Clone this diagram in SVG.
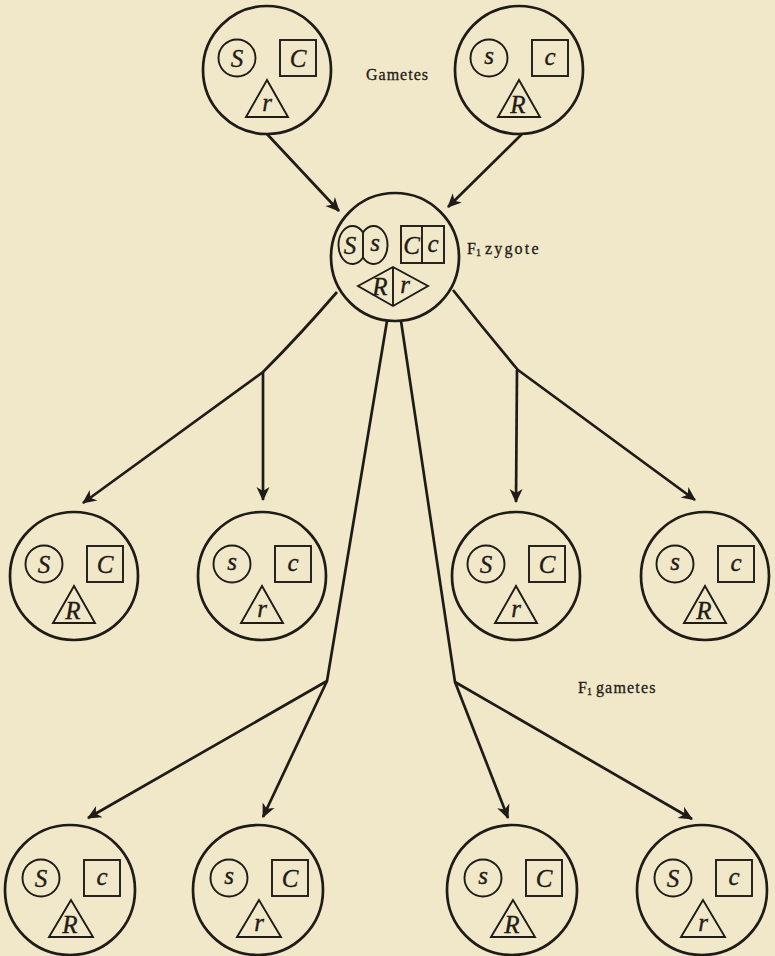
<svg xmlns="http://www.w3.org/2000/svg" width="775" height="956" viewBox="0 0 775 956">
  <style>
    .cell { fill: none; stroke: #1f1b17; stroke-width: 2.7; }
    .part { fill: none; stroke: #1f1b17; stroke-width: 1.9; stroke-linejoin: miter; }
    .lt { font-family: "Liberation Serif", "DejaVu Serif", serif; font-style: italic; font-size: 25px; text-anchor: middle; fill: #1f1b17; stroke: #1f1b17; stroke-width: 0.35; }
    .lbl { font-family: "Liberation Serif", "DejaVu Serif", serif; font-size: 16px; fill: #1f1b17; stroke: #1f1b17; stroke-width: 0.3; }
    .link { fill: none; stroke: #1f1b17; stroke-width: 2.7; stroke-linejoin: round; stroke-linecap: butt; }
  </style>
  <defs>
    <marker id="arrow" viewBox="-14 -8 16 16" markerWidth="16" markerHeight="16" refX="0" refY="0" orient="auto" markerUnits="userSpaceOnUse">
      <path d="M-13,-6.5 L1,0 L-13,6.5 L-9,0 Z" fill="#1f1b17"/>
    </marker>
  </defs>

  <rect width="775" height="956" fill="#f0e8c8"/>

  <!-- connectors -->
  <g id="connectors">
    <path class="link" d="M267,134 L339,211" marker-end="url(#arrow)"/>
    <path class="link" d="M522,134 L448,207" marker-end="url(#arrow)"/>

    <path class="link" d="M337,292 Q300,335 263,372 L83,503" marker-end="url(#arrow)"/>
    <path class="link" d="M263,372 L263,500" marker-end="url(#arrow)"/>
    <path class="link" d="M453,290 Q486,332 518,370 L695,500" marker-end="url(#arrow)"/>
    <path class="link" d="M517,370 L516,502" marker-end="url(#arrow)"/>

    <path class="link" d="M387,321 L327,681 L88,818" marker-end="url(#arrow)"/>
    <path class="link" d="M327,681 L263,817" marker-end="url(#arrow)"/>
    <path class="link" d="M401,321 L455,682 L692,819" marker-end="url(#arrow)"/>
    <path class="link" d="M455,682 L508,818" marker-end="url(#arrow)"/>
  </g>

  <!-- labels -->
  <text class="lbl" x="366" y="80" textLength="62" lengthAdjust="spacing">Gametes</text>
  <text class="lbl" x="467" y="254">F<tspan font-size="10" dy="2">1</tspan><tspan dy="-2" dx="4" letter-spacing="2.2">zygote</tspan></text>
  <text class="lbl" x="578" y="693">F<tspan font-size="10" dy="2">1</tspan><tspan dy="-2" dx="4" letter-spacing="1.2">gametes</tspan></text>

  <!-- parental gametes -->
  <g id="gamete-SCr" transform="translate(267,70)">
    <circle class="cell" r="64"/>
    <circle class="part" cx="-30" cy="-12" r="18.5"/>
    <rect class="part" x="13" y="-30" width="36" height="36"/>
    <polygon class="part" points="0,10 -21,47 21,47"/>
    <text class="lt" x="-30" y="-3.5">S</text>
    <text class="lt" x="31" y="-3">C</text>
    <text class="lt" x="0" y="41">r</text>
  </g>
  <g id="gamete-scR" transform="translate(519,70)">
    <circle class="cell" r="64"/>
    <circle class="part" cx="-30" cy="-12" r="18.5"/>
    <rect class="part" x="13" y="-30" width="36" height="36"/>
    <polygon class="part" points="0,10 -21,47 21,47"/>
    <text class="lt" x="-30" y="-6">s</text>
    <text class="lt" x="31" y="-5.5">c</text>
    <text class="lt" x="-1" y="43">R</text>
  </g>

  <!-- hybrid zygote -->
  <g id="zygote" transform="translate(395,257)">
    <circle class="cell" r="64"/>
    <path class="part" d="M-32,-24.5 A14,19 0 1 0 -32,0.5 A14,19 0 1 0 -32,-24.5 Z M-32,-24.5 L-32,0.5"/>
    <rect class="part" x="6" y="-31" width="43" height="37"/>
    <line class="part" x1="27" y1="-31" x2="27" y2="6"/>
    <polygon class="part" points="-37,29 -2,10 33,29 -2,49"/>
    <line class="part" x1="-2" y1="10" x2="-2" y2="49"/>
    <text class="lt" x="-45" y="-3.5">S</text>
    <text class="lt" x="-20" y="-6">s</text>
    <text class="lt" x="16.5" y="-3.5">C</text>
    <text class="lt" x="38" y="-5.5">c</text>
    <text class="lt" x="-15" y="38">R</text>
    <text class="lt" x="10" y="36">r</text>
  </g>

  <!-- F1 gametes, upper row -->
  <g id="f1-SCR" transform="translate(74,576)">
    <circle class="cell" r="64"/>
    <circle class="part" cx="-30" cy="-12" r="18.5"/>
    <rect class="part" x="13" y="-30" width="36" height="36"/>
    <polygon class="part" points="0,10 -21,47 21,47"/>
    <text class="lt" x="-30" y="-3.5">S</text>
    <text class="lt" x="31" y="-3">C</text>
    <text class="lt" x="-1" y="43">R</text>
  </g>
  <g id="f1-scr" transform="translate(262,576)">
    <circle class="cell" r="64"/>
    <circle class="part" cx="-30" cy="-12" r="18.5"/>
    <rect class="part" x="13" y="-30" width="36" height="36"/>
    <polygon class="part" points="0,10 -21,47 21,47"/>
    <text class="lt" x="-30" y="-6">s</text>
    <text class="lt" x="31" y="-5.5">c</text>
    <text class="lt" x="0" y="41">r</text>
  </g>
  <g id="f1-SCr" transform="translate(516,576)">
    <circle class="cell" r="64"/>
    <circle class="part" cx="-30" cy="-12" r="18.5"/>
    <rect class="part" x="13" y="-30" width="36" height="36"/>
    <polygon class="part" points="0,10 -21,47 21,47"/>
    <text class="lt" x="-30" y="-3.5">S</text>
    <text class="lt" x="31" y="-3">C</text>
    <text class="lt" x="0" y="41">r</text>
  </g>
  <g id="f1-scR" transform="translate(705,576)">
    <circle class="cell" r="64"/>
    <circle class="part" cx="-30" cy="-12" r="18.5"/>
    <rect class="part" x="13" y="-30" width="36" height="36"/>
    <polygon class="part" points="0,10 -21,47 21,47"/>
    <text class="lt" x="-30" y="-6">s</text>
    <text class="lt" x="31" y="-5.5">c</text>
    <text class="lt" x="-1" y="43">R</text>
  </g>

  <!-- F1 gametes, lower row -->
  <g id="f1-ScR" transform="translate(70,890)">
    <circle class="cell" r="65"/>
    <circle class="part" cx="-29" cy="-12" r="18.5"/>
    <rect class="part" x="14" y="-30" width="36" height="36"/>
    <polygon class="part" points="1,10 -21,47 23,47"/>
    <text class="lt" x="-29" y="-3.5">S</text>
    <text class="lt" x="32" y="-5.5">c</text>
    <text class="lt" x="0" y="43">R</text>
  </g>
  <g id="f1-sCr" transform="translate(258,890)">
    <circle class="cell" r="65"/>
    <circle class="part" cx="-29" cy="-12" r="18.5"/>
    <rect class="part" x="14" y="-30" width="36" height="36"/>
    <polygon class="part" points="1,10 -21,47 23,47"/>
    <text class="lt" x="-29" y="-6">s</text>
    <text class="lt" x="32" y="-3">C</text>
    <text class="lt" x="1" y="41">r</text>
  </g>
  <g id="f1-sCR" transform="translate(512,890)">
    <circle class="cell" r="65"/>
    <circle class="part" cx="-29" cy="-12" r="18.5"/>
    <rect class="part" x="14" y="-30" width="36" height="36"/>
    <polygon class="part" points="1,10 -21,47 23,47"/>
    <text class="lt" x="-29" y="-6">s</text>
    <text class="lt" x="32" y="-3">C</text>
    <text class="lt" x="0" y="43">R</text>
  </g>
  <g id="f1-Scr" transform="translate(702,890)">
    <circle class="cell" r="65"/>
    <circle class="part" cx="-29" cy="-12" r="18.5"/>
    <rect class="part" x="14" y="-30" width="36" height="36"/>
    <polygon class="part" points="1,10 -21,47 23,47"/>
    <text class="lt" x="-29" y="-3.5">S</text>
    <text class="lt" x="32" y="-5.5">c</text>
    <text class="lt" x="1" y="41">r</text>
  </g>
</svg>
